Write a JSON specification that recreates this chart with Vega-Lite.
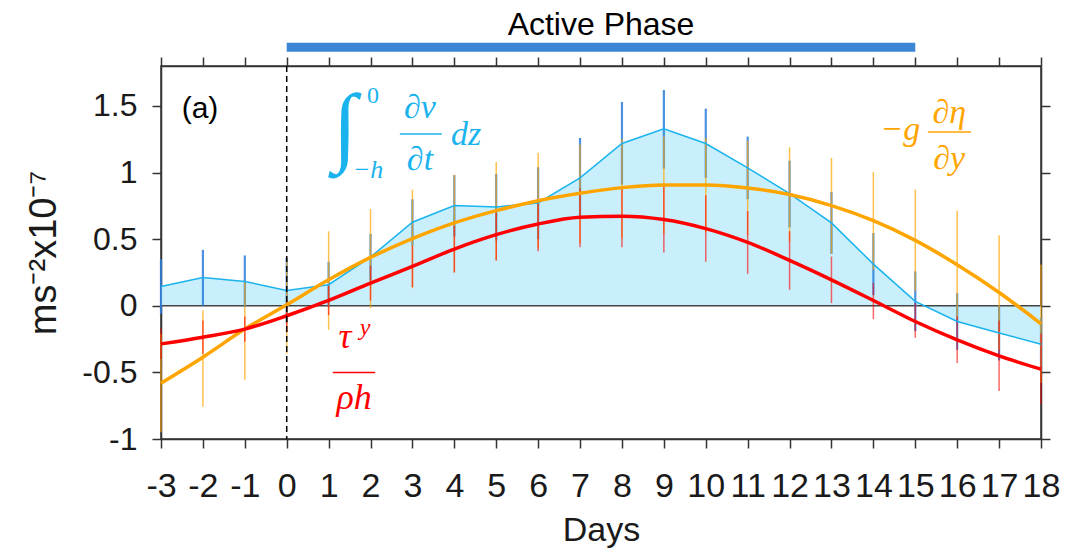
{
  "$schema": "https://vega.github.io/schema/vega-lite/v6.json",
  "width": 880,
  "height": 373,
  "autosize": {"type": "none"},
  "padding": {"left": 161, "top": 66, "right": 25, "bottom": 116},
  "background": "white",
  "config": {
    "view": {"stroke": "#333333", "strokeWidth": 1.5},
    "axis": {
      "grid": false,
      "labelFont": "Liberation Sans",
      "titleFont": "Liberation Sans",
      "domainColor": "#333333",
      "tickColor": "#333333",
      "labelColor": "#1a1a1a",
      "titleColor": "#1a1a1a",
      "domainWidth": 1.5,
      "tickWidth": 1.5,
      "tickSize": 9,
      "titleFontWeight": "normal"
    }
  },
  "datasets": {
    "main": [
      {"day": -3, "dv": 0.145, "dv_lo": -0.06, "dv_hi": 0.35, "eta": -0.581, "eta_lo": -0.95, "eta_hi": -0.21, "tau": -0.286, "tau_lo": -0.40, "tau_hi": -0.17},
      {"day": -2, "dv": 0.213, "dv_lo": 0.0, "dv_hi": 0.42, "eta": -0.386, "eta_lo": -0.757, "eta_hi": -0.035, "tau": -0.236, "tau_lo": -0.36, "tau_hi": -0.11},
      {"day": -1, "dv": 0.183, "dv_lo": -0.01, "dv_hi": 0.378, "eta": -0.175, "eta_lo": -0.556, "eta_hi": 0.178, "tau": -0.175, "tau_lo": -0.27, "tau_hi": -0.08},
      {"day": 0, "dv": 0.115, "dv_lo": -0.13, "dv_hi": 0.36, "eta": 0.0075, "eta_lo": -0.36, "eta_hi": 0.37, "tau": -0.075, "tau_lo": -0.2, "tau_hi": 0.05},
      {"day": 1, "dv": 0.158, "dv_lo": -0.01, "dv_hi": 0.33, "eta": 0.195, "eta_lo": -0.18, "eta_hi": 0.559, "tau": 0.04, "tau_lo": -0.07, "tau_hi": 0.15},
      {"day": 2, "dv": 0.366, "dv_lo": 0.19, "dv_hi": 0.54, "eta": 0.363, "eta_lo": -0.018, "eta_hi": 0.727, "tau": 0.17, "tau_lo": 0.04, "tau_hi": 0.30},
      {"day": 3, "dv": 0.627, "dv_lo": 0.45, "dv_hi": 0.80, "eta": 0.504, "eta_lo": 0.133, "eta_hi": 0.872, "tau": 0.296, "tau_lo": 0.14, "tau_hi": 0.45},
      {"day": 4, "dv": 0.752, "dv_lo": 0.52, "dv_hi": 0.98, "eta": 0.622, "eta_lo": 0.25, "eta_hi": 0.985, "tau": 0.426, "tau_lo": 0.25, "tau_hi": 0.60},
      {"day": 5, "dv": 0.742, "dv_lo": 0.49, "dv_hi": 0.99, "eta": 0.714, "eta_lo": 0.34, "eta_hi": 1.08, "tau": 0.534, "tau_lo": 0.34, "tau_hi": 0.70},
      {"day": 6, "dv": 0.772, "dv_lo": 0.50, "dv_hi": 1.04, "eta": 0.789, "eta_lo": 0.43, "eta_hi": 1.148, "tau": 0.614, "tau_lo": 0.41, "tau_hi": 0.79},
      {"day": 7, "dv": 0.96, "dv_lo": 0.66, "dv_hi": 1.26, "eta": 0.845, "eta_lo": 0.47, "eta_hi": 1.21, "tau": 0.664, "tau_lo": 0.44, "tau_hi": 0.88},
      {"day": 8, "dv": 1.218, "dv_lo": 0.91, "dv_hi": 1.53, "eta": 0.887, "eta_lo": 0.51, "eta_hi": 1.25, "tau": 0.672, "tau_lo": 0.44, "tau_hi": 0.90},
      {"day": 9, "dv": 1.328, "dv_lo": 1.03, "dv_hi": 1.62, "eta": 0.907, "eta_lo": 0.54, "eta_hi": 1.27, "tau": 0.647, "tau_lo": 0.40, "tau_hi": 0.90},
      {"day": 10, "dv": 1.218, "dv_lo": 0.96, "dv_hi": 1.48, "eta": 0.907, "eta_lo": 0.55, "eta_hi": 1.26, "tau": 0.579, "tau_lo": 0.33, "tau_hi": 0.83},
      {"day": 11, "dv": 1.035, "dv_lo": 0.80, "dv_hi": 1.27, "eta": 0.885, "eta_lo": 0.53, "eta_hi": 1.24, "tau": 0.476, "tau_lo": 0.24, "tau_hi": 0.71},
      {"day": 12, "dv": 0.842, "dv_lo": 0.59, "dv_hi": 1.09, "eta": 0.835, "eta_lo": 0.48, "eta_hi": 1.19, "tau": 0.341, "tau_lo": 0.12, "tau_hi": 0.56},
      {"day": 13, "dv": 0.622, "dv_lo": 0.39, "dv_hi": 0.855, "eta": 0.752, "eta_lo": 0.39, "eta_hi": 1.11, "tau": 0.195, "tau_lo": 0.02, "tau_hi": 0.37},
      {"day": 14, "dv": 0.313, "dv_lo": 0.08, "dv_hi": 0.546, "eta": 0.639, "eta_lo": 0.27, "eta_hi": 1.005, "tau": 0.04, "tau_lo": -0.10, "tau_hi": 0.17},
      {"day": 15, "dv": 0.033, "dv_lo": -0.19, "dv_hi": 0.258, "eta": 0.491, "eta_lo": 0.11, "eta_hi": 0.872, "tau": -0.118, "tau_lo": -0.24, "tau_hi": 0.02},
      {"day": 16, "dv": -0.118, "dv_lo": -0.33, "dv_hi": 0.095, "eta": 0.308, "eta_lo": -0.10, "eta_hi": 0.714, "tau": -0.256, "tau_lo": -0.43, "tau_hi": -0.08},
      {"day": 17, "dv": -0.205, "dv_lo": -0.41, "dv_hi": 0.0, "eta": 0.10, "eta_lo": -0.33, "eta_hi": 0.529, "tau": -0.376, "tau_lo": -0.64, "tau_hi": -0.11},
      {"day": 18, "dv": -0.288, "dv_lo": -0.49, "dv_hi": -0.09, "eta": -0.135, "eta_lo": -0.58, "eta_hi": 0.31, "tau": -0.476, "tau_lo": -0.74, "tau_hi": -0.21}
    ]
  },
  "data": {"name": "main"},
  "resolve": {"axis": {"x": "independent", "y": "independent"}},
  "layer": [
    {
      "mark": {"type": "area", "color": "#c9effc", "opacity": 1},
      "encoding": {
        "x": {"field": "day", "type": "quantitative",
          "scale": {"domain": [-3, 18], "nice": false, "zero": false},
          "axis": {"orient": "bottom", "values": [-3,-2,-1,0,1,2,3,4,5,6,7,8,9,10,11,12,13,14,15,16,17,18],
            "labelFontSize": 34, "labelPadding": 21, "title": "Days", "titleFontSize": 34, "titlePadding": 10,
            "labelExpr": "replace(format(datum.value, ''), '−', '-')", "labelOverlap": false, "labelFlush": false}},
        "y": {"field": "dv", "type": "quantitative",
          "scale": {"domain": [-1, 1.8], "nice": false},
          "axis": {"orient": "left", "values": [-1, -0.5, 0, 0.5, 1, 1.5],
            "labelFontSize": 32, "labelPadding": 15, "title": "ms⁻²x10⁻⁷", "titleFontSize": 38, "titlePadding": 18,
            "labelExpr": "replace(format(datum.value, ''), '−', '-')"}}
      }
    },
    {
      "mark": {"type": "point", "opacity": 0},
      "encoding": {
        "x": {"field": "day", "type": "quantitative",
          "axis": {"orient": "top", "values": [-3,-2,-1,0,1,2,3,4,5,6,7,8,9,10,11,12,13,14,15,16,17,18], "labels": false, "title": null}},
        "y": {"field": "dv", "type": "quantitative",
          "axis": {"orient": "right", "values": [-1, -0.5, 0, 0.5, 1, 1.5], "labels": false, "title": null}}
      }
    },
    {
      "data": {"values": [{}]},
      "mark": {"type": "rule", "color": "#444444", "strokeWidth": 1.5},
      "encoding": {"y": {"datum": 0, "type": "quantitative", "axis": null}}
    },
    {
      "mark": {"type": "rule", "color": "#2a7fdc", "strokeWidth": 2.2, "opacity": 0.85},
      "encoding": {
        "x": {"field": "day", "type": "quantitative", "axis": null},
        "y": {"field": "dv_lo", "type": "quantitative", "axis": null},
        "y2": {"field": "dv_hi"}
      }
    },
    {
      "mark": {"type": "rule", "color": "#ffa500", "strokeWidth": 1.5, "opacity": 0.7},
      "encoding": {
        "x": {"field": "day", "type": "quantitative", "axis": null},
        "y": {"field": "eta_lo", "type": "quantitative", "axis": null},
        "y2": {"field": "eta_hi"}
      }
    },
    {
      "mark": {"type": "rule", "color": "#ff0000", "strokeWidth": 1.5, "opacity": 0.6},
      "encoding": {
        "x": {"field": "day", "type": "quantitative", "axis": null},
        "y": {"field": "tau_lo", "type": "quantitative", "axis": null},
        "y2": {"field": "tau_hi"}
      }
    },
    {
      "mark": {"type": "line", "color": "#1ab3ee", "strokeWidth": 1.5},
      "encoding": {
        "x": {"field": "day", "type": "quantitative", "axis": null},
        "y": {"field": "dv", "type": "quantitative", "axis": null}
      }
    },
    {
      "mark": {"type": "line", "color": "#ffa500", "strokeWidth": 3.5, "interpolate": "monotone"},
      "encoding": {
        "x": {"field": "day", "type": "quantitative", "axis": null},
        "y": {"field": "eta", "type": "quantitative", "axis": null}
      }
    },
    {
      "mark": {"type": "line", "color": "#ff0000", "strokeWidth": 3.5, "interpolate": "monotone"},
      "encoding": {
        "x": {"field": "day", "type": "quantitative", "axis": null},
        "y": {"field": "tau", "type": "quantitative", "axis": null}
      }
    },
    {
      "data": {"values": [{}]},
      "mark": {"type": "rule", "color": "#000000", "strokeWidth": 1.5, "strokeDash": [6, 4]},
      "encoding": {"x": {"datum": 0, "type": "quantitative", "axis": null}}
    },
    {
      "data": {"values": [{}]},
      "mark": {"type": "rule", "color": "#3b87d6", "strokeWidth": 9, "strokeCap": "butt"},
      "encoding": {
        "x": {"datum": 0, "type": "quantitative", "axis": null},
        "x2": {"datum": 15},
        "y": {"datum": 1.94, "type": "quantitative", "axis": null}
      }
    },
    {
      "data": {"values": [{}]},
      "mark": {"type": "text", "text": "Active Phase", "font": "Liberation Sans", "fontSize": 32, "color": "#000000", "align": "center", "baseline": "alphabetic"},
      "encoding": {
        "x": {"datum": 7.5, "type": "quantitative", "axis": null},
        "y": {"datum": 2.033, "type": "quantitative", "axis": null}
      }
    },
    {
      "data": {"values": [{}]},
      "mark": {"type": "text", "text": "(a)", "font": "Liberation Sans", "fontSize": 30, "color": "#000000", "align": "center", "baseline": "alphabetic"},
      "encoding": {
        "x": {"datum": -2.07, "type": "quantitative", "axis": null},
        "y": {"datum": 1.41, "type": "quantitative", "axis": null}
      }
    },
    {
      "data": {"values": [{}]},
      "mark": {"type": "text", "text": "∫", "font": "Liberation Serif", "fontStyle": "italic", "fontSize": 88, "color": "#1ab3ee", "align": "center", "baseline": "alphabetic"},
      "encoding": {
        "x": {"datum": 1.39, "type": "quantitative", "axis": null},
        "y": {"datum": 1.13, "type": "quantitative", "axis": null}
      }
    },
    {
      "data": {"values": [{}]},
      "mark": {"type": "text", "text": "0", "font": "Liberation Serif", "fontSize": 24, "color": "#1ab3ee", "align": "center", "baseline": "alphabetic"},
      "encoding": {
        "x": {"datum": 2.06, "type": "quantitative", "axis": null},
        "y": {"datum": 1.52, "type": "quantitative", "axis": null}
      }
    },
    {
      "data": {"values": [{}]},
      "mark": {"type": "text", "text": "−h", "font": "Liberation Serif", "fontStyle": "italic", "fontSize": 26, "color": "#1ab3ee", "align": "center", "baseline": "alphabetic"},
      "encoding": {
        "x": {"datum": 1.94, "type": "quantitative", "axis": null},
        "y": {"datum": 0.96, "type": "quantitative", "axis": null}
      }
    },
    {
      "data": {"values": [{}]},
      "mark": {"type": "text", "text": "∂v", "font": "Liberation Serif", "fontStyle": "italic", "fontSize": 34, "color": "#1ab3ee", "align": "center", "baseline": "alphabetic"},
      "encoding": {
        "x": {"datum": 3.18, "type": "quantitative", "axis": null},
        "y": {"datum": 1.41, "type": "quantitative", "axis": null}
      }
    },
    {
      "data": {"values": [{}]},
      "mark": {"type": "rule", "color": "#1ab3ee", "strokeWidth": 1.5},
      "encoding": {
        "x": {"datum": 2.7, "type": "quantitative", "axis": null},
        "x2": {"datum": 3.7},
        "y": {"datum": 1.29, "type": "quantitative", "axis": null}
      }
    },
    {
      "data": {"values": [{}]},
      "mark": {"type": "text", "text": "∂t", "font": "Liberation Serif", "fontStyle": "italic", "fontSize": 34, "color": "#1ab3ee", "align": "center", "baseline": "alphabetic"},
      "encoding": {
        "x": {"datum": 3.18, "type": "quantitative", "axis": null},
        "y": {"datum": 1.02, "type": "quantitative", "axis": null}
      }
    },
    {
      "data": {"values": [{}]},
      "mark": {"type": "text", "text": "dz", "font": "Liberation Serif", "fontStyle": "italic", "fontSize": 34, "color": "#1ab3ee", "align": "center", "baseline": "alphabetic"},
      "encoding": {
        "x": {"datum": 4.28, "type": "quantitative", "axis": null},
        "y": {"datum": 1.21, "type": "quantitative", "axis": null}
      }
    },
    {
      "data": {"values": [{}]},
      "mark": {"type": "text", "text": "−g", "font": "Liberation Serif", "fontStyle": "italic", "fontSize": 34, "color": "#ffa500", "align": "center", "baseline": "alphabetic"},
      "encoding": {
        "x": {"datum": 14.64, "type": "quantitative", "axis": null},
        "y": {"datum": 1.245, "type": "quantitative", "axis": null}
      }
    },
    {
      "data": {"values": [{}]},
      "mark": {"type": "text", "text": "∂η", "font": "Liberation Serif", "fontStyle": "italic", "fontSize": 34, "color": "#ffa500", "align": "center", "baseline": "alphabetic"},
      "encoding": {
        "x": {"datum": 15.81, "type": "quantitative", "axis": null},
        "y": {"datum": 1.37, "type": "quantitative", "axis": null}
      }
    },
    {
      "data": {"values": [{}]},
      "mark": {"type": "rule", "color": "#ffa500", "strokeWidth": 1.5},
      "encoding": {
        "x": {"datum": 15.3, "type": "quantitative", "axis": null},
        "x2": {"datum": 16.33},
        "y": {"datum": 1.305, "type": "quantitative", "axis": null}
      }
    },
    {
      "data": {"values": [{}]},
      "mark": {"type": "text", "text": "∂y", "font": "Liberation Serif", "fontStyle": "italic", "fontSize": 34, "color": "#ffa500", "align": "center", "baseline": "alphabetic"},
      "encoding": {
        "x": {"datum": 15.81, "type": "quantitative", "axis": null},
        "y": {"datum": 1.03, "type": "quantitative", "axis": null}
      }
    },
    {
      "data": {"values": [{}]},
      "mark": {"type": "text", "text": "τ", "font": "Liberation Serif", "fontStyle": "italic", "fontSize": 36, "color": "#ff0000", "align": "center", "baseline": "alphabetic"},
      "encoding": {
        "x": {"datum": 1.39, "type": "quantitative", "axis": null},
        "y": {"datum": -0.32, "type": "quantitative", "axis": null}
      }
    },
    {
      "data": {"values": [{}]},
      "mark": {"type": "text", "text": "y", "font": "Liberation Serif", "fontStyle": "italic", "fontSize": 24, "color": "#ff0000", "align": "center", "baseline": "alphabetic"},
      "encoding": {
        "x": {"datum": 1.87, "type": "quantitative", "axis": null},
        "y": {"datum": -0.22, "type": "quantitative", "axis": null}
      }
    },
    {
      "data": {"values": [{}]},
      "mark": {"type": "rule", "color": "#ff0000", "strokeWidth": 1.5},
      "encoding": {
        "x": {"datum": 1.1, "type": "quantitative", "axis": null},
        "x2": {"datum": 2.11},
        "y": {"datum": -0.5, "type": "quantitative", "axis": null}
      }
    },
    {
      "data": {"values": [{}]},
      "mark": {"type": "text", "text": "ρh", "font": "Liberation Serif", "fontStyle": "italic", "fontSize": 36, "color": "#ff0000", "align": "center", "baseline": "alphabetic"},
      "encoding": {
        "x": {"datum": 1.61, "type": "quantitative", "axis": null},
        "y": {"datum": -0.775, "type": "quantitative", "axis": null}
      }
    }
  ]
}
